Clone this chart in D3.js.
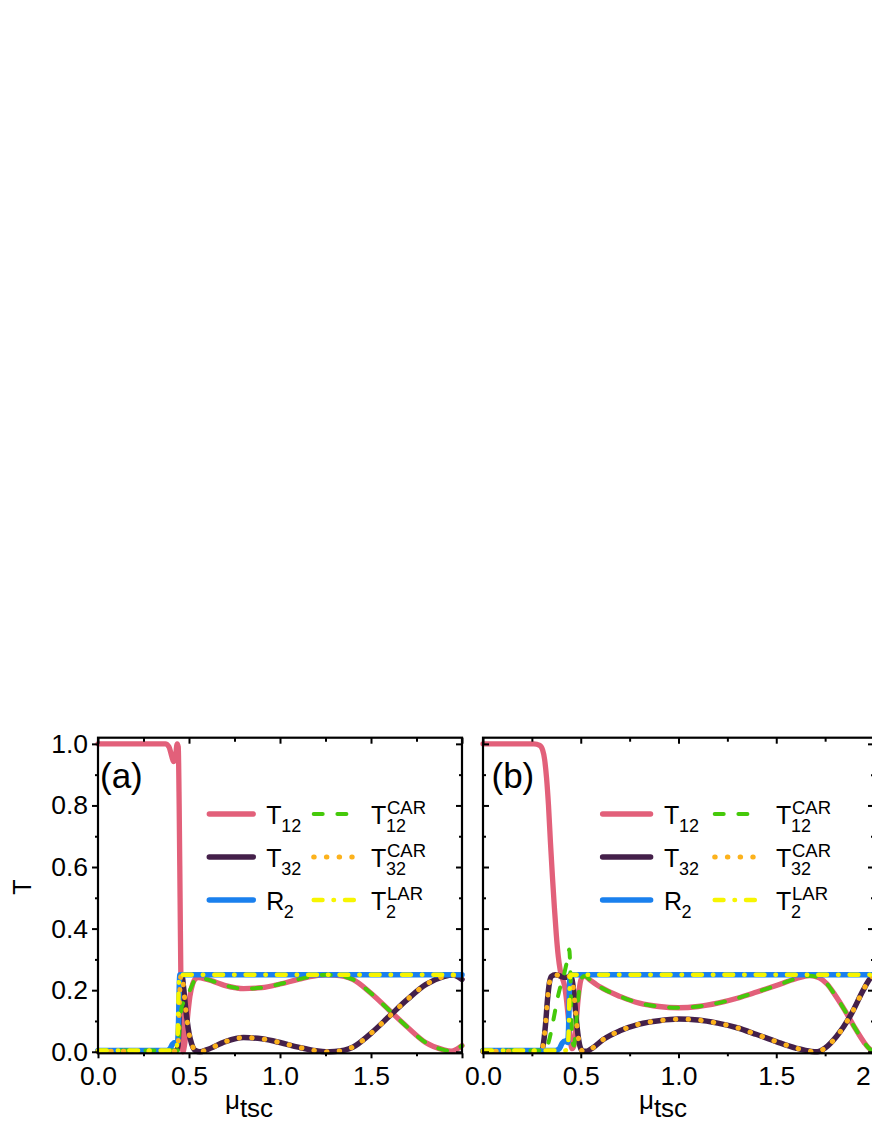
<!DOCTYPE html>
<html>
<head>
<meta charset="utf-8">
<script src="https://cdn.jsdelivr.net/npm/d3@7"></script>
<style>
body { margin: 0; background: #fff; }
svg { display: block; }
text { font-family: 'Liberation Sans', Arial, sans-serif; fill: #000; }
</style>
</head>
<body>
<svg id="chart" width="872" height="1128"></svg>
<script>
// tick values
var xMajor = [0, 0.5, 1, 1.5, 2];
var xMinor = [0.25, 0.75, 1.25, 1.75];
var yMajor = [0, 0.2, 0.4, 0.6, 0.8, 1.0];
var yMinor = [0.1, 0.3, 0.5, 0.7, 0.9];

// panel (a): [mu_tsc, T]
var t12A = [[0,1],[0.37,1],[0.39,0.99],[0.405,0.96],[0.415,0.942],[0.425,0.955],[0.435,1.0],[0.441,0.99],[0.446,0.8],[0.451,0.5],[0.456,0.2],[0.461,0.04],[0.467,0.0],[0.475,0.02],[0.485,0.07],[0.495,0.13],[0.505,0.18],[0.52,0.22],[0.535,0.237],[0.55,0.241],[0.6,0.235],[0.7,0.215],[0.8,0.205],[0.9,0.208],[1.0,0.22],[1.1,0.235],[1.2,0.247],[1.25,0.25],[1.3,0.249],[1.4,0.235],[1.5,0.19],[1.6,0.135],[1.7,0.08],[1.8,0.03],[1.9,0.006],[1.94,0.002],[1.97,0.008],[2.0,0.02]];
var t32A = [[0,0.002],[0.43,0.002],[0.44,0.02],[0.446,0.12],[0.451,0.22],[0.457,0.25],[0.463,0.245],[0.47,0.21],[0.48,0.15],[0.49,0.1],[0.5,0.06],[0.515,0.025],[0.535,0.004],[0.56,0.0],[0.6,0.007],[0.7,0.033],[0.8,0.046],[0.9,0.042],[1.0,0.03],[1.1,0.015],[1.2,0.003],[1.25,0.0],[1.3,0.001],[1.4,0.015],[1.5,0.06],[1.6,0.115],[1.7,0.17],[1.8,0.218],[1.9,0.244],[1.95,0.249],[2.0,0.235]];
var r2A = [[0,0.004],[0.38,0.004],[0.395,0.01],[0.41,0.025],[0.425,0.03],[0.437,0.03],[0.442,0.08],[0.446,0.2],[0.45,0.25],[2.0,0.25]];
var t12carA = [[0,0.004],[0.438,0.004],[0.445,0.05],[0.452,0.11],[0.46,0.145],[0.475,0.165],[0.49,0.18],[0.505,0.2],[0.52,0.22],[0.535,0.237],[0.55,0.241],[0.6,0.235],[0.7,0.215],[0.8,0.205],[0.9,0.208],[1.0,0.22],[1.1,0.235],[1.2,0.247],[1.25,0.25],[1.3,0.249],[1.4,0.235],[1.5,0.19],[1.6,0.135],[1.7,0.08],[1.8,0.03],[1.9,0.006],[1.94,0.002],[1.97,0.008],[2.0,0.02]];
var t32carA = t32A;
var t2larA = [[0,0.004],[0.42,0.004],[0.432,0.015],[0.438,0.06],[0.443,0.2],[0.448,0.25],[2.0,0.25]];

// panel (b)
var t12B = [[0,1],[0.26,1],[0.29,0.995],[0.305,0.98],[0.315,0.95],[0.325,0.89],[0.335,0.8],[0.345,0.68],[0.355,0.57],[0.365,0.47],[0.375,0.38],[0.385,0.31],[0.395,0.265],[0.405,0.24],[0.415,0.22],[0.425,0.18],[0.435,0.12],[0.445,0.05],[0.455,0.01],[0.465,0.02],[0.475,0.08],[0.485,0.16],[0.495,0.215],[0.505,0.24],[0.52,0.246],[0.55,0.232],[0.6,0.21],[0.7,0.18],[0.8,0.158],[0.9,0.147],[1.0,0.143],[1.1,0.147],[1.2,0.158],[1.3,0.174],[1.4,0.194],[1.5,0.215],[1.6,0.237],[1.67,0.247],[1.72,0.24],[1.76,0.22],[1.8,0.185],[1.85,0.135],[1.9,0.08],[1.95,0.03],[1.98,0.008],[2.0,0.002]];
var t32B = [[0,0.002],[0.29,0.002],[0.3,0.005],[0.31,0.03],[0.32,0.09],[0.33,0.17],[0.34,0.225],[0.35,0.245],[0.37,0.25],[0.39,0.247],[0.41,0.242],[0.43,0.242],[0.445,0.245],[0.455,0.235],[0.465,0.19],[0.475,0.12],[0.485,0.06],[0.495,0.02],[0.51,0.002],[0.53,0.002],[0.56,0.012],[0.615,0.04],[0.7,0.068],[0.8,0.09],[0.9,0.101],[1.0,0.106],[1.1,0.103],[1.2,0.093],[1.3,0.078],[1.4,0.056],[1.5,0.033],[1.6,0.012],[1.68,0.001],[1.71,0.0],[1.75,0.012],[1.81,0.051],[1.88,0.118],[1.945,0.2],[1.98,0.238],[2.0,0.25]];
var r2B = [[0,0.004],[0.37,0.004],[0.39,0.01],[0.405,0.028],[0.42,0.035],[0.433,0.03],[0.438,0.08],[0.442,0.2],[0.446,0.25],[2.0,0.25]];
var t12carB = [[0,0.004],[0.32,0.004],[0.335,0.03],[0.35,0.07],[0.365,0.12],[0.38,0.17],[0.395,0.21],[0.41,0.24],[0.425,0.28],[0.435,0.31],[0.441,0.332],[0.446,0.28],[0.451,0.15],[0.456,0.04],[0.465,0.02],[0.475,0.08],[0.485,0.16],[0.495,0.215],[0.505,0.24],[0.52,0.246],[0.55,0.232],[0.6,0.21],[0.7,0.18],[0.8,0.158],[0.9,0.147],[1.0,0.143],[1.1,0.147],[1.2,0.158],[1.3,0.174],[1.4,0.194],[1.5,0.215],[1.6,0.237],[1.67,0.247],[1.72,0.24],[1.76,0.22],[1.8,0.185],[1.85,0.135],[1.9,0.08],[1.95,0.03],[1.98,0.008],[2.0,0.002]];
var t32carB = t32B;
var t2larB = [[0,0.004],[0.42,0.004],[0.432,0.01],[0.438,0.06],[0.443,0.2],[0.448,0.25],[2.0,0.25]];

var styles = {
    t12:    {color: '#e2607a', width: 5.3, dash: null},
    t32:    {color: '#44204a', width: 5.5, dash: null},
    r2:     {color: '#1a80ee', width: 5.5, dash: null},
    t12car: {color: '#45c90a', width: 4,   dash: '9,14.7'},
    t32car: {color: '#fcb21c', width: 5,   dash: '0.5,12.2'},
    t2lar:  {color: '#f7f500', width: 4.5, dash: '8.8,11,0.5,11'}
};
var order = ['t12', 't32', 'r2', 't12car', 't32car', 't2lar'];

var plotTop = 737.7, plotBottom = 1053.3;
var svg = d3.select('#chart');

var panels = [
    {id: 'a', left: 98, right: 462, label: '(a)', labelX: 100, xLabelX: 249,
     data: {t12: t12A, t32: t32A, r2: r2A, t12car: t12carA, t32car: t32carA, t2lar: t2larA},
     leg: {s1: 209.3, s1w: 44, t1: 266.3, s2: 313.7, t2: 371}},
    {id: 'b', left: 483, right: 874, label: '(b)', labelX: 491.5, xLabelX: 663,
     data: {t12: t12B, t32: t32B, r2: r2B, t12car: t12carB, t32car: t32carB, t2lar: t2larB},
     leg: {s1: 602.6, s1w: 48, t1: 664, s2: 714.7, t2: 776}}
];

var y = d3.scaleLinear().domain([-0.005, 1.02]).range([plotBottom, plotTop]);
var fmt = d3.format('.1f');

panels.forEach(function(p) {
    var x = d3.scaleLinear().domain([0, 2]).range([p.left, p.right]);
    var g = svg.append('g');

    var line = d3.line()
        .x(function(d) { return x(d[0]); })
        .y(function(d) { return y(d[1]); })
        .curve(d3.curveMonotoneX);

    order.forEach(function(k) {
        var s = styles[k];
        g.append('path')
            .attr('d', line(p.data[k]))
            .attr('fill', 'none')
            .attr('stroke', s.color)
            .attr('stroke-width', s.width)
            .attr('stroke-linecap', 'round')
            .attr('stroke-linejoin', 'round')
            .attr('stroke-dasharray', s.dash);
    });

    // frame
    g.append('rect')
        .attr('x', p.left).attr('y', plotTop)
        .attr('width', p.right - p.left).attr('height', plotBottom - plotTop)
        .attr('fill', 'none').attr('stroke', '#000').attr('stroke-width', 2.2);

    function axis(a, pos, vals, size, format, pad) {
        var ag = g.append('g')
            .attr('transform', pos)
            .call(a.tickValues(vals).tickSizeInner(size).tickSizeOuter(0)
                .tickPadding(pad || 3).tickFormat(format || ''));
        ag.select('.domain').remove();
        ag.attr('font-family', null).attr('font-size', null);
        ag.selectAll('line').attr('stroke', '#000').attr('stroke-width', 2);
        ag.selectAll('text').style('font-size', '26.5px');
        return ag;
    }

    var xLab = function(d) { return (p.id === 'a' && d === 2) ? '' : fmt(d); };
    axis(d3.axisBottom(x), 'translate(0,' + plotBottom + ')', xMajor, 5, xLab, 8);
    axis(d3.axisBottom(x), 'translate(0,' + plotBottom + ')', xMinor, 3);
    axis(d3.axisTop(x), 'translate(0,' + plotTop + ')', xMajor, -6);
    axis(d3.axisTop(x), 'translate(0,' + plotTop + ')', xMinor, -4);
    axis(d3.axisRight(y), 'translate(' + p.right + ',0)', yMajor, -6);
    axis(d3.axisRight(y), 'translate(' + p.right + ',0)', yMinor, -3);
    if (p.id === 'a') {
        axis(d3.axisLeft(y), 'translate(' + p.left + ',0)', yMajor, 6, fmt, 4);
        axis(d3.axisLeft(y), 'translate(' + p.left + ',0)', yMinor, 3);
    } else {
        axis(d3.axisLeft(y), 'translate(' + p.left + ',0)', yMajor, -6);
        axis(d3.axisLeft(y), 'translate(' + p.left + ',0)', yMinor, -3);
    }

    // panel label
    g.append('text').attr('x', p.labelX).attr('y', 788)
        .style('font-size', '35px').text(p.label);

    // x axis title
    var xt = g.append('text').attr('x', p.xLabelX).attr('y', 1108.5)
        .attr('text-anchor', 'middle').style('font-size', '26px');
    xt.append('tspan').text('\u03bc');
    xt.append('tspan').attr('dy', 8).text('tsc');

    // legend
    var L = p.leg;
    var rows = [
        {a: 't12', b: 't12car', main: 'T', sub: '12', sup2: 'CAR', sub2: '12', y: 814},
        {a: 't32', b: 't32car', main: 'T', sub: '32', sup2: 'CAR', sub2: '32', y: 857},
        {a: 'r2',  b: 't2lar',  main: 'R', sub: '2',  sup2: 'LAR', sub2: '2',  y: 900}
    ];
    rows.forEach(function(r) {
        var sa = styles[r.a], sb = styles[r.b];
        g.append('line')
            .attr('x1', L.s1).attr('x2', L.s1 + L.s1w).attr('y1', r.y).attr('y2', r.y)
            .attr('stroke', sa.color).attr('stroke-width', sa.width)
            .attr('stroke-linecap', 'round');
        var len2 = r.b === 't12car' ? 33 : (r.b === 't32car' ? 38.5 : 40.5);
        g.append('line')
            .attr('x1', L.s2).attr('x2', L.s2 + len2).attr('y1', r.y).attr('y2', r.y)
            .attr('stroke', sb.color).attr('stroke-width', sb.width)
            .attr('stroke-linecap', 'round').attr('stroke-dasharray', sb.dash);

        var base = r.y + 9.7;
        g.append('text').attr('x', L.t1).attr('y', base).style('font-size', '25px').text(r.main);
        g.append('text').attr('x', L.t1 + (r.main === 'R' ? 17.5 : 15)).attr('y', base + 8)
            .style('font-size', '18px').text(r.sub);

        g.append('text').attr('x', L.t2).attr('y', base).style('font-size', '25px').text('T');
        g.append('text').attr('x', L.t2 + 16).attr('y', base - 9.5)
            .style('font-size', '18.5px').text(r.sup2);
        g.append('text').attr('x', L.t2 + 15).attr('y', base + 8)
            .style('font-size', '18px').text(r.sub2);
    });
});

// y axis title
svg.append('text')
    .attr('transform', 'translate(31,887) rotate(-90)')
    .attr('text-anchor', 'middle')
    .style('font-size', '25px')
    .text('T');
</script>
</body>
</html>
